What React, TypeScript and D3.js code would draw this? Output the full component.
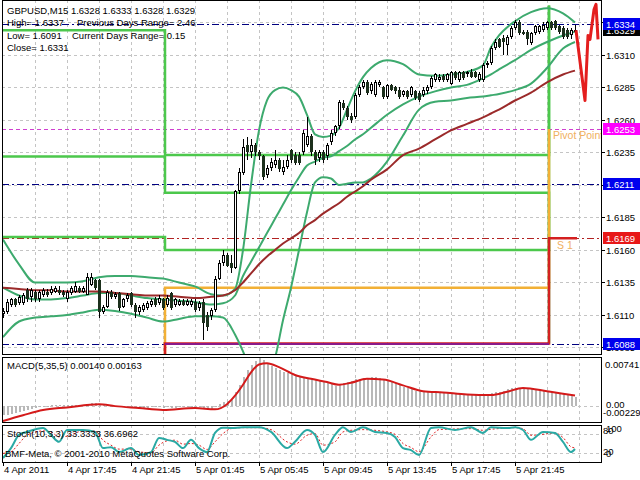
import * as React from 'react';
import * as d3 from 'd3';

// GBPUSD M15 bars, 4 Apr 2011 13:45 .. 6 Apr 01:30
const opens = [
  1.6111, 1.6112, 1.6118, 1.6122, 1.6119, 1.6119, 1.6129, 1.6124, 1.6128, 1.6122,
  1.6125, 1.6128, 1.6127, 1.6128, 1.6129, 1.6128, 1.6122, 1.6127, 1.6128, 1.6131,
  1.6128, 1.6125, 1.6133, 1.6137, 1.6137, 1.6112, 1.6116, 1.6128, 1.6124, 1.6127,
  1.6116, 1.6122, 1.6127, 1.6118, 1.6112, 1.6114, 1.6115, 1.6118, 1.6122, 1.6119,
  1.6122, 1.6118, 1.6127, 1.6118, 1.6118, 1.6121, 1.6118, 1.6118, 1.6120, 1.6115,
  1.6120, 1.6110, 1.6109, 1.6114, 1.6138, 1.6150, 1.6156, 1.6150, 1.6146, 1.6205,
  1.6219, 1.6241, 1.6235, 1.6241, 1.6235, 1.6232, 1.6218, 1.6223, 1.6225, 1.6229,
  1.6220, 1.6224, 1.6237, 1.6233, 1.6233, 1.6235, 1.6241, 1.6248, 1.6235, 1.6231,
  1.6235, 1.6232, 1.6243, 1.6250, 1.6255, 1.6273, 1.6269, 1.6263, 1.6262, 1.6279,
  1.6285, 1.6289, 1.6282, 1.6279, 1.6287, 1.6285, 1.6278, 1.6287, 1.6285, 1.6283,
  1.6279, 1.6282, 1.6279, 1.6282, 1.6281, 1.6279, 1.6282, 1.6285, 1.6291, 1.6291,
  1.6294, 1.6291, 1.6288, 1.6297, 1.6291, 1.6297, 1.6295, 1.6297, 1.6297, 1.6291,
  1.6291, 1.6302, 1.6304, 1.6315, 1.6322, 1.6323, 1.6318, 1.6324, 1.6331, 1.6335,
  1.6328, 1.6328, 1.6319, 1.6327, 1.6328, 1.6329, 1.6331, 1.6335, 1.6336, 1.6332,
  1.6331, 1.6329, 1.6325, 1.6328,
];
const highs = [
  1.6115, 1.6122, 1.6123, 1.6123, 1.6125, 1.6127, 1.6131, 1.6131, 1.6129, 1.6129,
  1.6131, 1.6130, 1.6132, 1.6132, 1.6132, 1.6129, 1.6129, 1.6132, 1.6135, 1.6132,
  1.6132, 1.6142, 1.6142, 1.6138, 1.6138, 1.6118, 1.6129, 1.6129, 1.6128, 1.6128,
  1.6123, 1.6127, 1.6128, 1.6119, 1.6118, 1.6119, 1.6121, 1.6122, 1.6124, 1.6125,
  1.6123, 1.6125, 1.6128, 1.6123, 1.6122, 1.6122, 1.6122, 1.6122, 1.6122, 1.6121,
  1.6122, 1.6112, 1.6115, 1.6140, 1.6152, 1.6160, 1.6158, 1.6156, 1.6206, 1.6223,
  1.6245, 1.6247, 1.6245, 1.6242, 1.6237, 1.6233, 1.6225, 1.6231, 1.6237, 1.6231,
  1.6229, 1.6233, 1.6238, 1.6235, 1.6235, 1.6252, 1.6262, 1.6249, 1.6237, 1.6237,
  1.6237, 1.6242, 1.6252, 1.6256, 1.6275, 1.6275, 1.6271, 1.6265, 1.6281, 1.6287,
  1.6291, 1.6291, 1.6289, 1.6291, 1.6291, 1.6286, 1.6288, 1.6288, 1.6286, 1.6285,
  1.6283, 1.6283, 1.6286, 1.6283, 1.6282, 1.6285, 1.6287, 1.6294, 1.6296, 1.6295,
  1.6295, 1.6296, 1.6298, 1.6298, 1.6298, 1.6298, 1.6298, 1.6299, 1.6298, 1.6297,
  1.6304, 1.6305, 1.6317, 1.6322, 1.6323, 1.6325, 1.6325, 1.6332, 1.6337, 1.6337,
  1.6329, 1.6329, 1.6328, 1.6333, 1.6333, 1.6335, 1.6336, 1.6336, 1.6337, 1.6333,
  1.6332, 1.6331, 1.6331, 1.6333,
];
const lows = [
  1.6108, 1.6111, 1.6116, 1.6116, 1.6118, 1.6118, 1.6120, 1.6120, 1.6120, 1.6120,
  1.6124, 1.6124, 1.6125, 1.6127, 1.6125, 1.6124, 1.6120, 1.6125, 1.6127, 1.6127,
  1.6127, 1.6125, 1.6132, 1.6129, 1.6108, 1.6111, 1.6115, 1.6122, 1.6122, 1.6113,
  1.6115, 1.6120, 1.6116, 1.6108, 1.6110, 1.6112, 1.6114, 1.6116, 1.6116, 1.6118,
  1.6114, 1.6116, 1.6114, 1.6116, 1.6117, 1.6117, 1.6117, 1.6116, 1.6112, 1.6113,
  1.6091, 1.6098, 1.6106, 1.6112, 1.6137, 1.6148, 1.6147, 1.6142, 1.6145, 1.6203,
  1.6218, 1.6229, 1.6231, 1.6232, 1.6229, 1.6214, 1.6215, 1.6221, 1.6223, 1.6220,
  1.6218, 1.6222, 1.6227, 1.6225, 1.6225, 1.6233, 1.6239, 1.6232, 1.6225, 1.6228,
  1.6227, 1.6229, 1.6241, 1.6248, 1.6253, 1.6268, 1.6260, 1.6258, 1.6261, 1.6278,
  1.6284, 1.6279, 1.6280, 1.6278, 1.6285, 1.6276, 1.6276, 1.6282, 1.6280, 1.6276,
  1.6278, 1.6276, 1.6278, 1.6275, 1.6274, 1.6278, 1.6280, 1.6284, 1.6289, 1.6289,
  1.6289, 1.6289, 1.6287, 1.6291, 1.6289, 1.6291, 1.6293, 1.6292, 1.6292, 1.6289,
  1.6289, 1.6300, 1.6302, 1.6314, 1.6315, 1.6310, 1.6310, 1.6322, 1.6329, 1.6325,
  1.6325, 1.6318, 1.6318, 1.6325, 1.6326, 1.6328, 1.6329, 1.6329, 1.6329, 1.6326,
  1.6322, 1.6322, 1.6322, 1.6328,
];
const closes = [
  1.6113, 1.6120, 1.6122, 1.6118, 1.6124, 1.6125, 1.6122, 1.6129, 1.6122, 1.6128,
  1.6129, 1.6125, 1.6130, 1.6131, 1.6127, 1.6125, 1.6128, 1.6131, 1.6132, 1.6128,
  1.6131, 1.6139, 1.6139, 1.6131, 1.6112, 1.6116, 1.6128, 1.6124, 1.6126, 1.6115,
  1.6122, 1.6125, 1.6118, 1.6112, 1.6116, 1.6118, 1.6119, 1.6121, 1.6118, 1.6123,
  1.6115, 1.6123, 1.6115, 1.6122, 1.6121, 1.6118, 1.6121, 1.6121, 1.6114, 1.6119,
  1.6104, 1.6101, 1.6114, 1.6138, 1.6150, 1.6156, 1.6148, 1.6146, 1.6205, 1.6220,
  1.6239, 1.6235, 1.6241, 1.6235, 1.6232, 1.6216, 1.6223, 1.6228, 1.6229, 1.6222,
  1.6224, 1.6229, 1.6229, 1.6227, 1.6227, 1.6250, 1.6248, 1.6235, 1.6229, 1.6235,
  1.6229, 1.6241, 1.6250, 1.6255, 1.6274, 1.6269, 1.6262, 1.6260, 1.6279, 1.6285,
  1.6289, 1.6281, 1.6288, 1.6289, 1.6289, 1.6278, 1.6287, 1.6283, 1.6282, 1.6278,
  1.6282, 1.6278, 1.6285, 1.6277, 1.6275, 1.6283, 1.6285, 1.6292, 1.6295, 1.6293,
  1.6291, 1.6295, 1.6297, 1.6292, 1.6297, 1.6292, 1.6297, 1.6293, 1.6293, 1.6295,
  1.6302, 1.6304, 1.6315, 1.6320, 1.6316, 1.6320, 1.6324, 1.6331, 1.6335, 1.6327,
  1.6326, 1.6322, 1.6327, 1.6332, 1.6332, 1.6333, 1.6335, 1.6331, 1.6331, 1.6328,
  1.6324, 1.6324, 1.6329, 1.6329,
];

// indicator lines at these bar indices
const bandIdx = [0, 4, 8, 12, 16, 20, 24, 28, 32, 36, 40, 44, 48, 52, 55, 58, 60, 62, 64, 66, 68, 70, 72, 74, 76, 78, 80, 82, 84, 86, 88, 90, 92, 96, 100, 104, 108, 112, 116, 120, 122, 124, 128, 132, 136, 140, 143];
const bandUpper = [1.6168, 1.6149, 1.6135, 1.6135, 1.6135, 1.6136, 1.6139, 1.6140, 1.6140, 1.6139, 1.6138, 1.6135, 1.6132, 1.6126, 1.6125, 1.6130, 1.6160, 1.6210, 1.6252, 1.6275, 1.6283, 1.6285, 1.6283, 1.6278, 1.6264, 1.6249, 1.6247, 1.6248, 1.6254, 1.6268, 1.6282, 1.6293, 1.6300, 1.6306, 1.6303, 1.6295, 1.6294, 1.6295, 1.6297, 1.6302, 1.6316, 1.6325, 1.6336, 1.6343, 1.6346, 1.6342, 1.6335];
const bandMiddle = [1.6131, 1.6125, 1.6122, 1.6122, 1.6123, 1.6125, 1.6127, 1.6127, 1.6125, 1.6123, 1.6122, 1.6121, 1.6120, 1.6118, 1.6119, 1.6125, 1.6140, 1.6151, 1.6162, 1.6173, 1.6184, 1.6195, 1.6206, 1.6216, 1.6225, 1.6228, 1.6231, 1.6232, 1.6236, 1.6240, 1.6245, 1.6249, 1.6254, 1.6264, 1.6272, 1.6278, 1.6282, 1.6285, 1.6287, 1.6292, 1.6295, 1.6299, 1.6306, 1.6314, 1.6320, 1.6325, 1.6328];
const bandLower = [1.6093, 1.6105, 1.6108, 1.6109, 1.6110, 1.6112, 1.6114, 1.6113, 1.6111, 1.6108, 1.6105, 1.6107, 1.6109, 1.6109, 1.6108, 1.6095, 1.6082, 1.6066, 1.6059, 1.6064, 1.6077, 1.6106, 1.6131, 1.6160, 1.6189, 1.6212, 1.6216, 1.6215, 1.6210, 1.6211, 1.6212, 1.6212, 1.6215, 1.6228, 1.6248, 1.6268, 1.6274, 1.6275, 1.6277, 1.6278, 1.6279, 1.6280, 1.6283, 1.6288, 1.6300, 1.6315, 1.6320];
const maSlow = [1.6131, 1.6130, 1.6129, 1.6129, 1.6128, 1.6128, 1.6128, 1.6127, 1.6126, 1.6125, 1.6125, 1.6124, 1.6123, 1.6124, 1.6125, 1.6129, 1.6135, 1.6142, 1.6149, 1.6155, 1.6160, 1.6165, 1.6169, 1.6173, 1.6179, 1.6183, 1.6188, 1.6192, 1.6196, 1.6201, 1.6205, 1.6209, 1.6214, 1.6222, 1.6233, 1.6238, 1.6245, 1.6252, 1.6257, 1.6262, 1.6265, 1.6268, 1.6275, 1.6281, 1.6289, 1.6295, 1.6298];

// daily levels: values for 4 Apr, 5 Apr, 6 Apr (day change after bars 40 and 136)
const dayBreaks = [40.5, 136.5];
const levelHigh = [1.6329, 1.6233, 1.6348];
const levelMid = [1.6232, 1.6204, 1.6088];
const levelLow = [1.6170, 1.6160, 1.6348];
const levelPivot = [1.6060, 1.6131, 1.6253];
const levelS1 = [1.6040, 1.6088, 1.6169];
const navyLevels = [1.6334, 1.6211, 1.6088];
const pivotLine = 1.6253;
const s1Line = 1.6169;

const forecastIdx = [143.25, 145.5, 146.25, 146.75, 147.75, 148.25, 148.75];
const forecastVals = [1.6329, 1.6275, 1.6325, 1.6322, 1.6345, 1.6349, 1.6322];

// MACD(5,35,5)
const macdMain = [
  -0.0014, -0.0013, -0.0012, -0.0011, -0.0009, -0.0008, -0.0006, -0.0005, -0.0003, -0.0002,
  -0.0001, 0.0000, 0.0001, 0.0001, 0.0001, 0.0001, 0.0001, 0.0002, 0.0002, 0.0002,
  0.0002, 0.0004, 0.0005, 0.0005, 0.0003, 0.0001, 0.0001, 0.0001, 0.0000, -0.0001,
  -0.0001, -0.0001, -0.0002, -0.0003, -0.0003, -0.0003, -0.0003, -0.0002, -0.0002, -0.0002,
  -0.0003, -0.0002, -0.0003, -0.0003, -0.0002, -0.0002, -0.0002, -0.0002, -0.0002, -0.0002,
  -0.0004, -0.0006, -0.0005, -0.0001, 0.0003, 0.0006, 0.0008, 0.0009, 0.0022, 0.0032,
  0.0045, 0.0055, 0.0063, 0.0070, 0.00741, 0.0071, 0.0066, 0.0062, 0.0058, 0.0055,
  0.0053, 0.0051, 0.0049, 0.0048, 0.0047, 0.0045, 0.0044, 0.0043, 0.0041, 0.0039,
  0.0038, 0.0037, 0.0035, 0.0031, 0.0033, 0.0036, 0.0037, 0.0038, 0.0041, 0.0042,
  0.0043, 0.0044, 0.0045, 0.0045, 0.0044, 0.0042, 0.0040, 0.0037, 0.0035, 0.0032,
  0.0030, 0.0028, 0.0026, 0.0024, 0.0023, 0.0022, 0.0021, 0.0021, 0.0021, 0.0020,
  0.0020, 0.0020, 0.0020, 0.0019, 0.0019, 0.0019, 0.0018, 0.0018, 0.0018, 0.0018,
  0.0018, 0.0019, 0.0020, 0.0021, 0.0022, 0.0024, 0.0026, 0.0028, 0.0028, 0.0028,
  0.0027, 0.0027, 0.0026, 0.0026, 0.0025, 0.0024, 0.0023, 0.0022, 0.0021, 0.0020,
  0.0018, 0.0017, 0.0015, 0.0014,
];
const macdSigIdx = [0, 5, 10, 16, 24, 28, 34, 40, 48, 53, 56, 58, 60, 62, 64, 66, 69, 73, 77, 81, 84, 87, 91, 95, 100, 105, 110, 116, 122, 126, 130, 136, 140, 143];
const macdSignal = [-0.00229, -0.0014, -0.0006, -0.0002, 0.0003, 0.0000, -0.0003, -0.0006, -0.0003, -0.0005, 0.0003, 0.0016, 0.0033, 0.0052, 0.0064, 0.0066, 0.0060, 0.0048, 0.0042, 0.0037, 0.0033, 0.0036, 0.0042, 0.0041, 0.0032, 0.0023, 0.0021, 0.0018, 0.0017, 0.0022, 0.0028, 0.0023, 0.0019, 0.00163];

// Stochastic(10,3,3)
const stochIdx = [0, 2, 4, 6, 10, 12, 14, 16, 20, 23, 25, 27, 29, 32, 34, 37, 39, 41, 43, 45, 47, 49, 51, 53, 55, 57, 60, 64, 67, 71, 73, 76, 78, 80, 83, 85, 87, 90, 93, 96, 98, 100, 102, 104, 107, 109, 113, 117, 120, 122, 126, 128, 130, 132, 135, 138, 140, 142, 143];
const stochMain = [6, 36, 76, 85, 97, 76, 55, 91, 91, 85, 36, 39, 24, 36, 15, 24, 67, 61, 55, 36, 61, 36, 24, 82, 98, 97, 99, 99, 85, 36, 55, 91, 76, 24, 76, 99, 85, 99, 85, 82, 70, 36, 30, 15, 97, 99, 91, 99, 82, 99, 97, 99, 91, 61, 85, 82, 55, 24, 33.3333];
const stochSignal = [20, 25, 50, 75, 88, 85, 70, 72, 88, 88, 60, 45, 33, 33, 25, 22, 45, 58, 60, 48, 50, 45, 32, 55, 80, 95, 98, 98, 92, 55, 48, 75, 80, 45, 55, 85, 90, 92, 90, 85, 78, 50, 38, 25, 70, 92, 94, 95, 90, 93, 97, 98, 95, 75, 78, 82, 68, 40, 36.6962];

const timeTickIdx = [0, 16, 32, 48, 64, 80, 96, 112, 128];
const timeTickText = ['4 Apr 2011', '4 Apr 17:45', '4 Apr 21:45', '5 Apr 01:45', '5 Apr 05:45', '5 Apr 09:45', '5 Apr 13:45', '5 Apr 17:45', '5 Apr 21:45'];
const priceTicks = [1.6085, 1.611, 1.6135, 1.616, 1.6185, 1.621, 1.6235, 1.626, 1.6285, 1.631, 1.6335];
const markerPrices = [1.6329, 1.6334, 1.6253, 1.6211, 1.6169, 1.6088];
const markerColors = ['#000000', '#0000EE', '#FF00FF', '#0000EE', '#E81818', '#0000EE'];

const FONT = '"Liberation Sans", Arial, sans-serif';
const GRID = '#C4C4C4';
const BAND = '#3DAA6E';

const App: React.FC = () => {
  const x = d3.scaleLinear().domain([-0.25, 149.5]).range([2, 601]);
  const y = d3.scaleLinear().domain([1.608, 1.63523]).range([354, 0]);
  const yM = d3.scaleLinear().domain([-0.00229, 0.00741]).range([421, 358]);
  const yS = d3.scaleLinear().domain([0, 100]).range([460, 427]);

  const sampled = (idx: number[], sy: (v: number) => number, curve = d3.curveMonotoneX) =>
    (vals: number[]) =>
      d3.line<number>().x((_, k) => x(idx[k])).y(v => sy(v)).curve(curve)(vals) || undefined;
  const bandPath = sampled(bandIdx, y);

  const stepPath = (vals: number[], extend: boolean) => {
    const pts: [number, number][] = [[x(-0.25), y(vals[0])]];
    dayBreaks.forEach((b, k) => {
      pts.push([x(b), y(vals[k])]);
      if (vals[k + 1] !== undefined) pts.push([x(b), y(vals[k + 1])]);
    });
    if (extend) pts.push([x(143.5), y(vals[vals.length - 1])]);
    return d3.line()(pts) || undefined;
  };

  const gridX = d3.range(8, 145, 8).map(i => Math.round(x(i)) + 0.5);
  const bars = d3.range(closes.length);

  const hline = (yy: number, stroke: string, dash: string, w = 1, x1 = 2, x2 = 601) => (
    <line x1={x1} x2={x2} y1={Math.round(yy) + 0.5} y2={Math.round(yy) + 0.5} stroke={stroke} strokeDasharray={dash} strokeWidth={w} />
  );

  return (
    <svg width={640} height={480} style={{ position: 'absolute', left: 0, top: 0, background: '#fff' }} fontFamily={FONT} fontSize={9.5}>
      <defs>
        <clipPath id="main"><rect x={2} y={0} width={599} height={354} /></clipPath>
        <clipPath id="macd"><rect x={2} y={357} width={599} height={65} /></clipPath>
        <clipPath id="stoch"><rect x={2} y={425} width={599} height={37} /></clipPath>
      </defs>
      <rect width={640} height={480} fill="#fff" />

      {/* grid */}
      <g stroke={GRID} strokeDasharray="3,3" shapeRendering="crispEdges">
        {gridX.map(gx => <line key={'gx' + gx} x1={gx} x2={gx} y1={0} y2={354} />)}
        {gridX.map(gx => <line key={'gm' + gx} x1={gx} x2={gx} y1={357} y2={422} />)}
        {gridX.map(gx => <line key={'gs' + gx} x1={gx} x2={gx} y1={425} y2={462} />)}
        {priceTicks.map(p => <line key={'gy' + p} x1={2} x2={601} y1={Math.round(y(p)) + 0.5} y2={Math.round(y(p)) + 0.5} />)}
        <line x1={2} x2={601} y1={Math.round(yM(0)) + 0.5} y2={Math.round(yM(0)) + 0.5} />
        <line x1={2} x2={601} y1={Math.round(yS(80)) + 0.5} y2={Math.round(yS(80)) + 0.5} />
        <line x1={2} x2={601} y1={Math.round(yS(20)) + 0.5} y2={Math.round(yS(20)) + 0.5} />
      </g>

      <g clipPath="url(#main)">
        {/* horizontal levels */}
        {navyLevels.map(p => <g key={'nv' + p}>{hline(y(p), '#000080', '7,3,2,3')}</g>)}
        {hline(y(pivotLine), '#D040D0', '4,3')}
        {hline(y(s1Line), '#B22222', '7,3,2,3')}

        {/* daily level steps */}
        <g fill="none" strokeWidth={2.5}>
          <path d={stepPath(levelHigh, false)} stroke="#4CC84C" />
          <path d={stepPath(levelMid, false)} stroke="#4CC84C" />
          <path d={stepPath(levelLow, false)} stroke="#4CC84C" />
          <path d={stepPath(levelPivot, false)} stroke="#F2B035" />
          <path d={stepPath(levelS1, true)} stroke="#D42020" />
        </g>
        <line x1={x(40.5)} x2={x(136.5)} y1={y(1.6088) + 0.5} y2={y(1.6088) + 0.5} stroke="#8A1A8A" strokeWidth={2} />

        {/* Bollinger bands and slow MA */}
        <g fill="none" stroke={BAND} strokeWidth={2}>
          <path d={bandPath(bandUpper)} />
          <path d={bandPath(bandMiddle)} />
          <path d={bandPath(bandLower)} />
        </g>
        <path d={bandPath(maSlow)} fill="none" stroke="#9B2A2A" strokeWidth={2} />

        {/* candles */}
        <g shapeRendering="crispEdges">
          {bars.map(i => {
            const xi = Math.round(x(i));
            const up = closes[i] >= opens[i];
            const top = Math.round(y(Math.max(opens[i], closes[i])));
            const bot = Math.round(y(Math.min(opens[i], closes[i])));
            const h = Math.max(1, bot - top);
            return (
              <g key={'c' + i}>
                <rect x={xi} y={Math.round(y(highs[i]))} width={1} height={Math.max(1, Math.round(y(lows[i])) - Math.round(y(highs[i])))} fill="#000" />
                <rect x={xi - 1} y={top} width={3} height={h} fill={up ? '#000' : '#1C301C'} />
                {up && h > 2 && <rect x={xi} y={top + 1} width={1} height={h - 2} fill="#fff" />}
              </g>
            );
          })}
        </g>

        {/* projection */}
        <path d={sampled(forecastIdx, y, d3.curveLinear)(forecastVals)} fill="none" stroke="#E41E1E" strokeWidth={3} strokeLinejoin="round" />

        <text x={553} y={139} fontSize={10.5} fill="#F0B060">Pivot Point</text>
        <text x={557} y={249} fontSize={10.5} fill="#F0B060">S 1</text>
      </g>

      {/* info text */}
      <g fill="#000">
        <text x={7} y={14}>GBPUSD,M15  1.6328 1.6333 1.6328 1.6329</text>
        <text x={7} y={26}>High= 1.6337</text>
        <text x={77} y={26}>Previous Days Range= 2.46</text>
        <text x={7} y={39}>Low= 1.6091</text>
        <text x={72} y={39}>Current Days Range= 0.15</text>
        <text x={7} y={51}>Close= 1.6331</text>
      </g>

      {/* MACD */}
      <g clipPath="url(#macd)">
        <g fill="#B8B8B8" shapeRendering="crispEdges">
          {bars.map(i => {
            const v = macdMain[i];
            const y0 = yM(0), y1 = yM(v);
            return <rect key={'m' + i} x={Math.round(x(i))} y={Math.min(y0, y1)} width={2} height={Math.max(0.5, Math.abs(y1 - y0))} />;
          })}
        </g>
        <path d={sampled(macdSigIdx, yM)(macdSignal)} fill="none" stroke="#D41A1A" strokeWidth={2} />
      </g>
      <text x={7} y={369}>MACD(5,35,5) 0.00140 0.00163</text>

      {/* Stochastic */}
      <g clipPath="url(#stoch)">
        <path d={sampled(stochIdx, yS)(stochSignal)} fill="none" stroke="#E02020" strokeWidth={1} strokeDasharray="2,2" />
        <path d={sampled(stochIdx, yS)(stochMain)} fill="none" stroke="#2AA9A4" strokeWidth={2} />
      </g>
      <text x={7} y={437}>Stoch(10,3,3) 33.3333 36.6962</text>
      <text x={5} y={457}>BMF-Meta, © 2001-2010 MetaQuotes Software Corp.</text>

      {/* frames */}
      <g fill="none" stroke="#000" shapeRendering="crispEdges">
        <rect x={2.5} y={0.5} width={599} height={354} />
        <rect x={2.5} y={357.5} width={599} height={65} />
        <rect x={2.5} y={425.5} width={599} height={37} />
      </g>

      {/* price axis */}
      <g fill="#000">
        {priceTicks.map(p => (
          <g key={'pt' + p}>
            <line x1={601} x2={605} y1={Math.round(y(p)) + 0.5} y2={Math.round(y(p)) + 0.5} stroke="#000" />
            <text x={606} y={y(p) + 4}>{p.toFixed(4)}</text>
          </g>
        ))}
        {markerPrices.map((p, k) => (
          <g key={'mk' + p}>
            <rect x={603} y={Math.round(y(p)) - 6} width={37} height={12} fill={markerColors[k]} />
            <text x={606} y={y(p) + 4} fill="#fff">{p.toFixed(4)}</text>
          </g>
        ))}
        <text x={605} y={368}>0.00741</text>
        <text x={606} y={408}>0.00</text>
        <text x={603} y={416}>-0.00229</text>
        <text x={606} y={432}>100</text>
        <text x={603} y={434}>80</text>
        <text x={603} y={455}>20</text>
        <text x={606} y={457}>0</text>
      </g>

      {/* time axis */}
      <g fill="#000">
        {timeTickIdx.map((ti, k) => (
          <g key={'tt' + ti}>
            <line x1={Math.round(x(ti)) + 0.5} x2={Math.round(x(ti)) + 0.5} y1={462} y2={466} stroke="#000" />
            <text x={Math.round(x(ti)) + 1} y={473}>{timeTickText[k]}</text>
          </g>
        ))}
      </g>
    </svg>
  );
};

export default App;
